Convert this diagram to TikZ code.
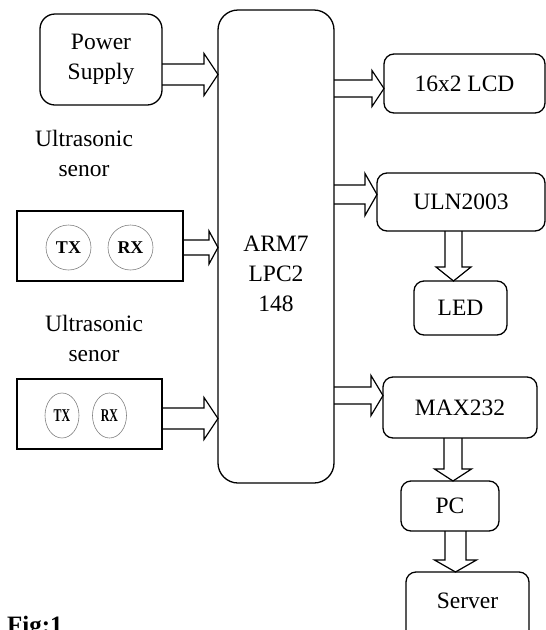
\documentclass[tikz,border=0pt]{standalone}
\usepackage{fontspec}
\setmainfont{Liberation Serif}
\usetikzlibrary{calc,shapes.geometric}
\newcommand\bigf{\fontsize{23.5}{30}\selectfont}
\newcommand\harr[6]{\draw[barrow] let \p1=(#1.east),\p2=(#2.west),\p3=(#3) in (\x1,\y3+#4) -- (\x2-#6,\y3+#4) -- (\x2-#6,\y3+#5) -- (\x2,\y3) -- (\x2-#6,\y3-#5) -- (\x2-#6,\y3-#4) -- (\x1,\y3-#4);}
\newcommand\varr[6]{\draw[barrow] let \p1=(#1.south),\p2=(#2.north),\p3=(#3) in (\x3-#4,\y1) -- (\x3-#4,\y2+#6) -- (\x3-#5,\y2+#6) -- (\x3,\y2) -- (\x3+#5,\y2+#6) -- (\x3+#4,\y2+#6) -- (\x3+#4,\y1);}
\begin{document}
\begin{tikzpicture}[x=1pt,y=-1pt,
  blk/.style={draw, line width=1.3pt, rounded corners=10pt, inner sep=0pt, outer sep=0pt, font=\bigf, align=center},
  sens/.style={draw, line width=1.3pt, inner sep=0pt, outer sep=0pt},
  txt/.style={font=\bigf, align=center, inner sep=0pt},
  circ/.style={circle, draw=gray, line width=0.6pt, minimum size=45pt, inner sep=0pt, font=\fontsize{18}{18}\bfseries\selectfont},
  ell/.style={ellipse, draw=gray, line width=0.6pt, minimum width=34pt, minimum height=45pt, inner sep=0pt, font=\fontsize{18}{18}\bfseries\selectfont},
  barrow/.style={line width=1.2pt, line join=miter}]
\useasboundingbox (0,0) rectangle (546,630);
% boxes
\node[blk, rounded corners=15pt, minimum width=122pt, minimum height=91pt] (ps) at (101,59.5) {Power\\Supply};
\node[blk, rounded corners=20pt, minimum width=116pt, minimum height=473pt] (arm) at (276,246.5) {};
\node[txt] (armt) at (276,274) {ARM7\\LPC2\\148};
\node[blk, minimum width=161pt, minimum height=59pt] (lcd) at (464.5,83.5) {16x2 LCD};
\node[blk, minimum width=168pt, minimum height=58pt] (uln) at (461,202) {ULN2003};
\node[blk, minimum width=93pt, minimum height=54pt] (led) at (460.5,308) {LED};
\node[blk, minimum width=154pt, minimum height=61pt] (max) at (460,407.5) {MAX232};
\node[blk, minimum width=98pt, minimum height=50pt] (pc) at (450,506) {PC};
\node[blk, minimum width=123pt, minimum height=73pt] (srv) at (467.5,608.5) {};
\node[txt] (srvt) at (467.5,600.5) {Server};
% sensors
\node[txt] (u1) at (84,153) {Ultrasonic\\senor};
\node[sens, minimum width=166pt, minimum height=70pt] (s1) at (100,246) {};
\node[circ] (tx1) at (68.5,247.5) {TX};
\node[circ] (rx1) at (130.5,247.5) {RX};
\node[txt] (u2) at (94,338.5) {Ultrasonic\\senor};
\node[sens, minimum width=145pt, minimum height=70pt] (s2) at (89.5,414) {};
\node[ell] (tx2) at (62,415.5) {\scalebox{0.66}[1]{TX}};
\node[ell] (rx2) at (109.5,415.5) {\scalebox{0.66}[1]{RX}};
\node[anchor=base west, inner sep=0pt, font=\fontsize{25}{25}\bfseries\selectfont] (fig) at (7,633.5) {Fig:1};
% arrow positions
\coordinate (yps) at (0,74.5);
\coordinate (ys1) at (0,247.5);
\coordinate (ys2) at (0,418.5);
\coordinate (ylcd) at (0,88.5);
\coordinate (yuln) at (0,194.5);
\coordinate (ymax) at (0,395.5);
\coordinate (xled) at (453.5,0);
\coordinate (xpc) at (453,0);
\coordinate (xsrv) at (455.5,0);
% block arrows
\harr{ps}{arm}{yps}{10.5pt}{21pt}{14pt}
\harr{s1}{arm}{ys1}{7.5pt}{16.5pt}{9pt}
\harr{s2}{arm}{ys2}{10.5pt}{21pt}{14pt}
\harr{arm}{lcd}{ylcd}{8.5pt}{18pt}{12pt}
\harr{arm}{uln}{yuln}{9.5pt}{21pt}{12pt}
\harr{arm}{max}{ymax}{8.5pt}{20pt}{12pt}
\varr{uln}{led}{xled}{8.5pt}{17.5pt}{14pt}
\varr{max}{pc}{xpc}{9pt}{18.5pt}{12pt}
\varr{pc}{srv}{xsrv}{10.5pt}{21pt}{12pt}
\end{tikzpicture}
\end{document}
